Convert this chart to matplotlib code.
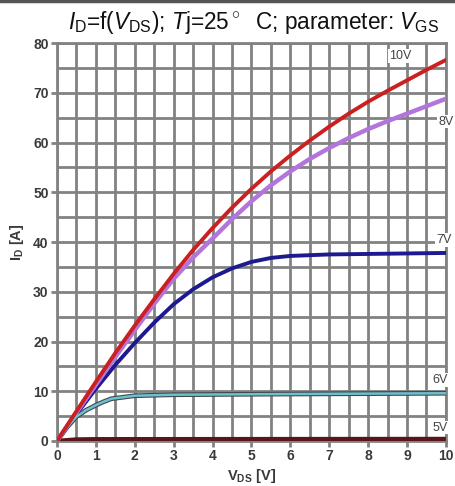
#!/usr/bin/env python
"""Output characteristics I_D = f(V_DS) for several gate voltages."""

import matplotlib.pyplot as plt
from matplotlib.lines import Line2D

plt.rcParams["font.family"] = ["Liberation Sans", "DejaVu Sans"]
plt.rcParams["mathtext.fontset"] = "custom"
plt.rcParams["mathtext.rm"] = "Liberation Sans"
plt.rcParams["mathtext.it"] = "Liberation Sans:italic"
plt.rcParams["mathtext.bf"] = "Liberation Sans:bold"

# values
vds_10 = [0, 0.5, 1, 1.5, 2, 2.5, 3, 3.5, 4, 4.5, 5, 5.5, 6, 6.5, 7, 7.5, 8, 8.5, 9, 9.5, 10]
id_10 = [0, 6.0, 11.9, 17.7, 23.2, 28.5, 33.6, 38.4, 42.8, 46.9, 50.7, 54.2, 57.4, 60.4, 63.2, 65.8, 68.2, 70.4, 72.5, 74.6, 76.6]

vds_8 = [0, 0.5, 1, 1.5, 2, 2.5, 3, 3.5, 4, 4.5, 5, 5.5, 6, 6.5, 7, 7.5, 8, 8.5, 9, 9.5, 10]
id_8 = [0, 5.7, 11.3, 16.9, 22.3, 27.6, 32.6, 36.9, 40.7, 44.6, 48.2, 51.4, 54.2, 56.7, 58.9, 60.9, 62.7, 64.3, 65.8, 67.3, 68.8]

vds_7 = [0, 0.5, 1, 1.5, 2, 2.5, 3, 3.5, 4, 4.5, 5, 5.5, 6, 7, 8, 9, 10]
id_7 = [0, 5.4, 10.5, 15.3, 19.7, 23.8, 27.5, 30.5, 32.9, 34.7, 36.0, 36.8, 37.2, 37.5, 37.6, 37.7, 37.8]

vds_6 = [0, 0.25, 0.5, 0.75, 1, 1.2, 1.4, 2, 3, 5, 10]
id_6 = [0, 2.7, 4.9, 6.2, 7.2, 7.9, 8.5, 9.1, 9.3, 9.4, 9.6]

vds_5 = [0, 0.5, 1, 10]
id_5 = [0, 0.3, 0.35, 0.4]

curve_labels = ["10V", "8V", "7V", "6V", "5V"]
label_x = [8.82, 10.0, 9.95, 9.85, 9.85]
label_y = [77.4, 64.2, 40.4, 12.3, 2.7]

GRID = "#828282"


def main() -> None:
    fig = plt.figure(figsize=(4.55, 4.86), dpi=100)
    ax = fig.add_axes([0.1253, 0.0926, 0.8547, 0.8189])

    ax.set_xlim(0, 10)
    ax.set_ylim(0, 80)
    ax.set_xticks(range(0, 11))
    ax.set_yticks(range(0, 81, 10))
    ax.set_xticks([x + 0.5 for x in range(10)], minor=True)
    ax.set_yticks(range(5, 80, 10), minor=True)
    ax.grid(which="both", color=GRID, lw=2.0)
    ax.set_axisbelow(True)
    for sp in ax.spines.values():
        sp.set_color(GRID)
        sp.set_linewidth(2.0)
    ax.tick_params(which="major", length=4, width=2, color=GRID, pad=2,
                   labelsize=10, labelcolor="#3a3a3a")
    ax.tick_params(which="minor", length=0)
    for lab in ax.get_xticklabels() + ax.get_yticklabels():
        lab.set_fontweight("bold")

    ax.plot(vds_5, id_5, color="#5a1518", lw=3.2, solid_capstyle="butt", zorder=3)
    ax.plot(vds_6, id_6, color="#3f4a4c", lw=3.4, zorder=3)
    ax.plot(vds_6, id_6, color="#6cc0cf", lw=1.8, zorder=4)
    ax.plot(vds_7, id_7, color="#1c1a8e", lw=2.8, zorder=3)
    ax.plot(vds_8, id_8, color="#b374dc", lw=3.2, zorder=3)
    ax.plot(vds_10, id_10, color="#cc2020", lw=2.8, zorder=4)

    for text, x, y in zip(curve_labels, label_x, label_y):
        ax.text(x, y, text, fontsize=9, color="#444444", ha="center", va="center",
                bbox={"facecolor": "white", "edgecolor": "none", "pad": 0.6}, zorder=5,
                clip_on=False)

    ax.set_xlabel(r"$\mathbf{V_{DS}}$ [V]", fontsize=10.5, fontweight="bold",
                  color="#3a3a3a", labelpad=3)
    ax.set_ylabel(r"$\mathbf{I_D}$ [A]", fontsize=10.5, fontweight="bold",
                  color="#3a3a3a", labelpad=5)

    fig.text(0.558, 0.954, r"$I_{\rm D}$=f($V_{\rm DS}$); $T$j=25$^\circ$  C; parameter: $V_{\rm GS}$",
             fontsize=16.3, ha="center", va="center", color="#111111")
    fig.add_artist(Line2D([0, 1], [0.997, 0.997], transform=fig.transFigure,
                          color="#555555", lw=2.5))

    fig.savefig("out.png", dpi=100, facecolor="white")
    plt.close(fig)


if __name__ == "__main__":
    main()
